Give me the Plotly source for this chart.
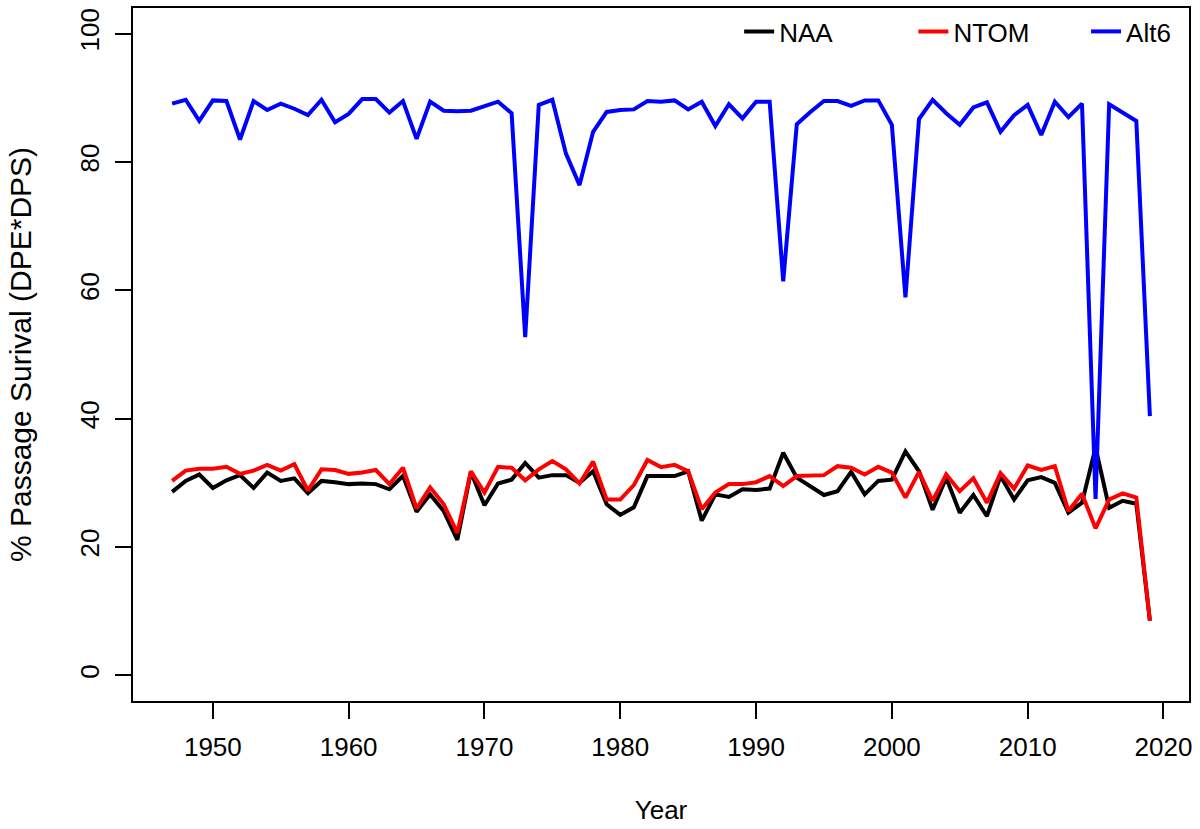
import plotly.graph_objects as go

years = list(range(1947, 2020))

naa = [28.6, 30.3, 31.3, 29.2, 30.4, 31.2, 29.2, 31.6, 30.3, 30.7,
       28.4, 30.3, 30.1, 29.8, 29.9, 29.8, 29.0, 31.1, 25.5, 28.2,
       25.6, 21.1, 31.7, 26.5, 29.9, 30.5, 33.1, 30.8, 31.2, 31.2,
       30.0, 31.8, 26.65, 25.0, 26.2, 31.05, 31.05, 31.05, 31.8, 24.1,
       28.2, 27.8, 29.0, 28.9, 29.1, 34.7, 30.8, 29.5, 28.1, 28.7,
       31.7, 28.2, 30.3, 30.5, 34.9, 31.8, 25.8, 30.8, 25.35, 28.1,
       24.8, 31.05, 27.4, 30.4, 30.9, 30.0, 25.35, 26.9, 35.5, 26.1,
       27.2, 26.75, 8.5]

ntom = [30.3, 31.9, 32.2, 32.2, 32.5, 31.4, 31.9, 32.8, 31.9, 32.9,
        28.8, 32.1, 32.0, 31.4, 31.6, 32.0, 29.8, 32.35, 26.0, 29.3,
        26.65, 22.2, 31.8, 28.5, 32.5, 32.35, 30.4, 32.1, 33.4, 32.1,
        29.9, 33.3, 27.4, 27.4, 29.65, 33.55, 32.45, 32.8, 31.8, 25.9,
        28.5, 29.8, 29.8, 30.1, 31.05, 29.5, 31.05, 31.05, 31.2, 32.6,
        32.35, 31.3, 32.5, 31.6, 27.7, 31.7, 27.2, 31.3, 28.7, 30.7,
        26.9, 31.5, 29.1, 32.7, 32.0, 32.6, 25.6, 28.3, 22.9, 27.4,
        28.35, 27.7, 8.5]

alt6 = [89.1, 89.7, 86.4, 89.6, 89.5, 83.5, 89.5, 88.1, 89.1, 88.3,
        87.3, 89.7, 86.2, 87.5, 89.8, 89.8, 87.7, 89.5, 83.6, 89.4,
        88.0, 87.9, 88.0, 88.75, 89.4, 87.6, 52.7, 88.9, 89.7, 81.3,
        76.4, 84.7, 87.8, 88.1, 88.2, 89.5, 89.4, 89.6, 88.2, 89.4,
        85.6, 89.0, 86.8, 89.4, 89.4, 61.4, 85.9, 87.8, 89.5, 89.5,
        88.75, 89.6, 89.6, 85.8, 58.9, 86.7, 89.7, 87.6, 85.8, 88.5,
        89.3, 84.7, 87.3, 88.9, 84.2, 89.4, 87.0, 89.1, 27.5, 89.0,
        87.7, 86.4, 40.4]

series_names = ["NAA", "NTOM", "Alt6"]
series_values = [naa, ntom, alt6]
series_colors = ["#000000", "#FF0000", "#0000FF"]

x_ticks = [1950, 1960, 1970, 1980, 1990, 2000, 2010, 2020]
y_ticks = [0, 20, 40, 60, 80, 100]

FONT = "Liberation Sans, Arial, sans-serif"

legend_ids = ["legend", "legend2", "legend3"]
legend_x = [0.574, 0.739, 0.9025]

fig = go.Figure()
for name, vals, col, lid in zip(series_names, series_values, series_colors, legend_ids):
    fig.add_trace(go.Scatter(x=years, y=vals, mode="lines", name=name,
                             line=dict(color=col, width=4), legend=lid))

legend_common = dict(orientation="h", xanchor="left", y=1.0, yanchor="top",
                     bgcolor="rgba(0,0,0,0)", borderwidth=0, font=dict(size=26))

span_x = years[-1] - years[0]
fig.update_layout(
    width=1200, height=829,
    margin=dict(l=133, r=11, t=6, b=128),
    paper_bgcolor="white", plot_bgcolor="white",
    font=dict(family=FONT, size=26, color="black"),
    showlegend=True,
    legend=dict(x=legend_x[0], **legend_common),
    legend2=dict(x=legend_x[1], **legend_common),
    legend3=dict(x=legend_x[2], **legend_common),
)
fig.update_xaxes(
    range=[years[0] - 0.04 * span_x, years[-1] + 0.04 * span_x],
    tickmode="array", tickvals=x_ticks, ticktext=[str(t) for t in x_ticks],
    ticks="outside", ticklen=16, tickwidth=1.5, tickcolor="black",
    showline=True, linecolor="black", linewidth=1.5, mirror=True,
    showgrid=False, zeroline=False,
    tickfont=dict(size=26), ticklabelstandoff=6,
    title=dict(text="Year", font=dict(size=26), standoff=40),
)
fig.update_yaxes(
    range=[-4, 104],
    tickmode="array", tickvals=y_ticks, ticktext=[str(t) for t in y_ticks],
    ticks="outside", ticklen=16, tickwidth=1.5, tickcolor="black",
    showline=True, linecolor="black", linewidth=1.5, mirror=True,
    showgrid=False, zeroline=False,
    tickangle=-90, tickfont=dict(size=26), ticklabelstandoff=6,
    title=dict(text="% Passage Surival (DPE*DPS)", font=dict(size=30), standoff=34),
)

fig.write_html("out.html")
